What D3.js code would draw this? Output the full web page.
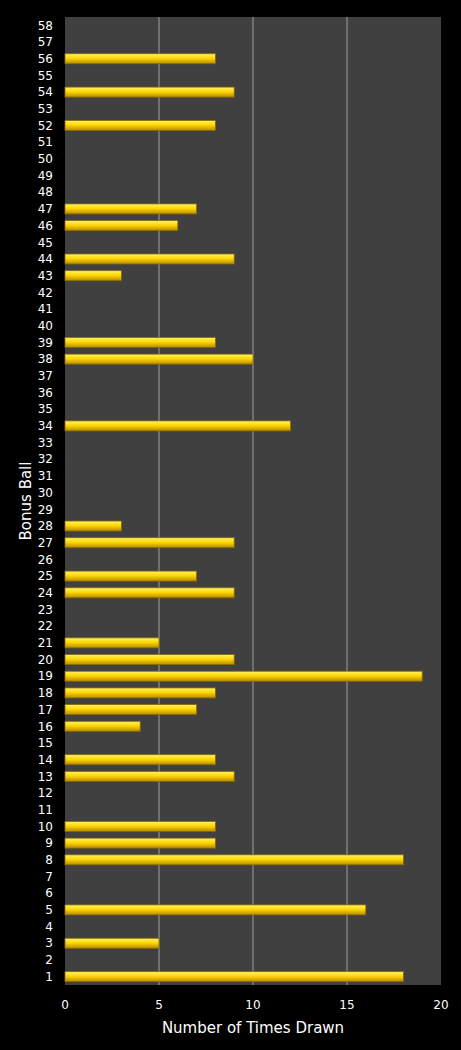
<!DOCTYPE html>
<meta charset="utf-8">
<title>Bonus Ball</title>
<style>
body { margin: 0; background: #000; }
text { font-family: "DejaVu Sans", sans-serif; fill: #fff; }
</style>
<svg id="chart" width="461" height="1050"></svg>
<script src="https://cdn.jsdelivr.net/npm/d3@7"></script>
<script>
// bonus ball number -> times drawn (balls with 0 draws omitted)
const balls = [56, 54, 52, 47, 46, 44, 43, 39, 38, 34, 28, 27, 25, 24, 21, 20, 19, 18, 17, 16, 14, 13, 10, 9, 8, 5, 3, 1];
const counts = [8, 9, 8, 7, 6, 9, 3, 8, 10, 12, 3, 9, 7, 9, 5, 9, 19, 8, 7, 4, 8, 9, 8, 8, 18, 16, 5, 18];
const xTicks = [0, 5, 10, 15, 20];

const svg = d3.select("#chart");
const m = {top: 17, left: 65, right: 20, bottom: 65};
const w = 461 - m.left - m.right, h = 1050 - m.top - m.bottom;

const x = d3.scaleLinear().domain([0, 20]).range([0, w]);
const y = d3.scaleBand().domain(d3.range(58, 0, -1)).range([0, h]).paddingInner(0.4).paddingOuter(0.2);

const defs = svg.append("defs");
const grad = defs.append("linearGradient").attr("id", "gold").attr("x1", 0).attr("x2", 0).attr("y1", 0).attr("y2", 1);
grad.append("stop").attr("offset", "0%").attr("stop-color", "#fff36a");
grad.append("stop").attr("offset", "45%").attr("stop-color", "#ffd800");
grad.append("stop").attr("offset", "100%").attr("stop-color", "#b88a00");

const g = svg.append("g").attr("transform", `translate(${m.left},${m.top})`);
g.append("rect").attr("width", w).attr("height", h).attr("fill", "#404040");

g.selectAll(".grid").data(xTicks.slice(1, -1)).enter().append("line")
    .attr("x1", d => x(d)).attr("x2", d => x(d)).attr("y1", 0).attr("y2", h)
    .attr("stroke", "#a0a0a0").attr("stroke-width", 1);

g.selectAll(".bar").data(balls).enter().append("rect")
    .attr("x", 0).attr("y", d => y(d))
    .attr("width", (d, i) => x(counts[i])).attr("height", y.bandwidth())
    .attr("fill", "url(#gold)").attr("stroke", "#8a6a00").attr("stroke-width", 0.8);

// y labels
g.selectAll(".yl").data(y.domain()).enter().append("text")
    .attr("x", -12).attr("y", d => y(d) + y.bandwidth() / 2)
    .attr("dy", "0.35em").attr("text-anchor", "end").attr("font-size", 12).text(d => d);

// x labels
g.selectAll(".xl").data(xTicks).enter().append("text")
    .attr("x", d => x(d)).attr("y", h + 24).attr("text-anchor", "middle").attr("font-size", 12).text(d => d);

svg.append("text").attr("x", m.left + w / 2).attr("y", 1033).attr("text-anchor", "middle")
    .attr("font-size", 15).text("Number of Times Drawn");
svg.append("text").attr("transform", `translate(31,${m.top + h / 2}) rotate(-90)`)
    .attr("text-anchor", "middle").attr("font-size", 15).text("Bonus Ball");
</script>
